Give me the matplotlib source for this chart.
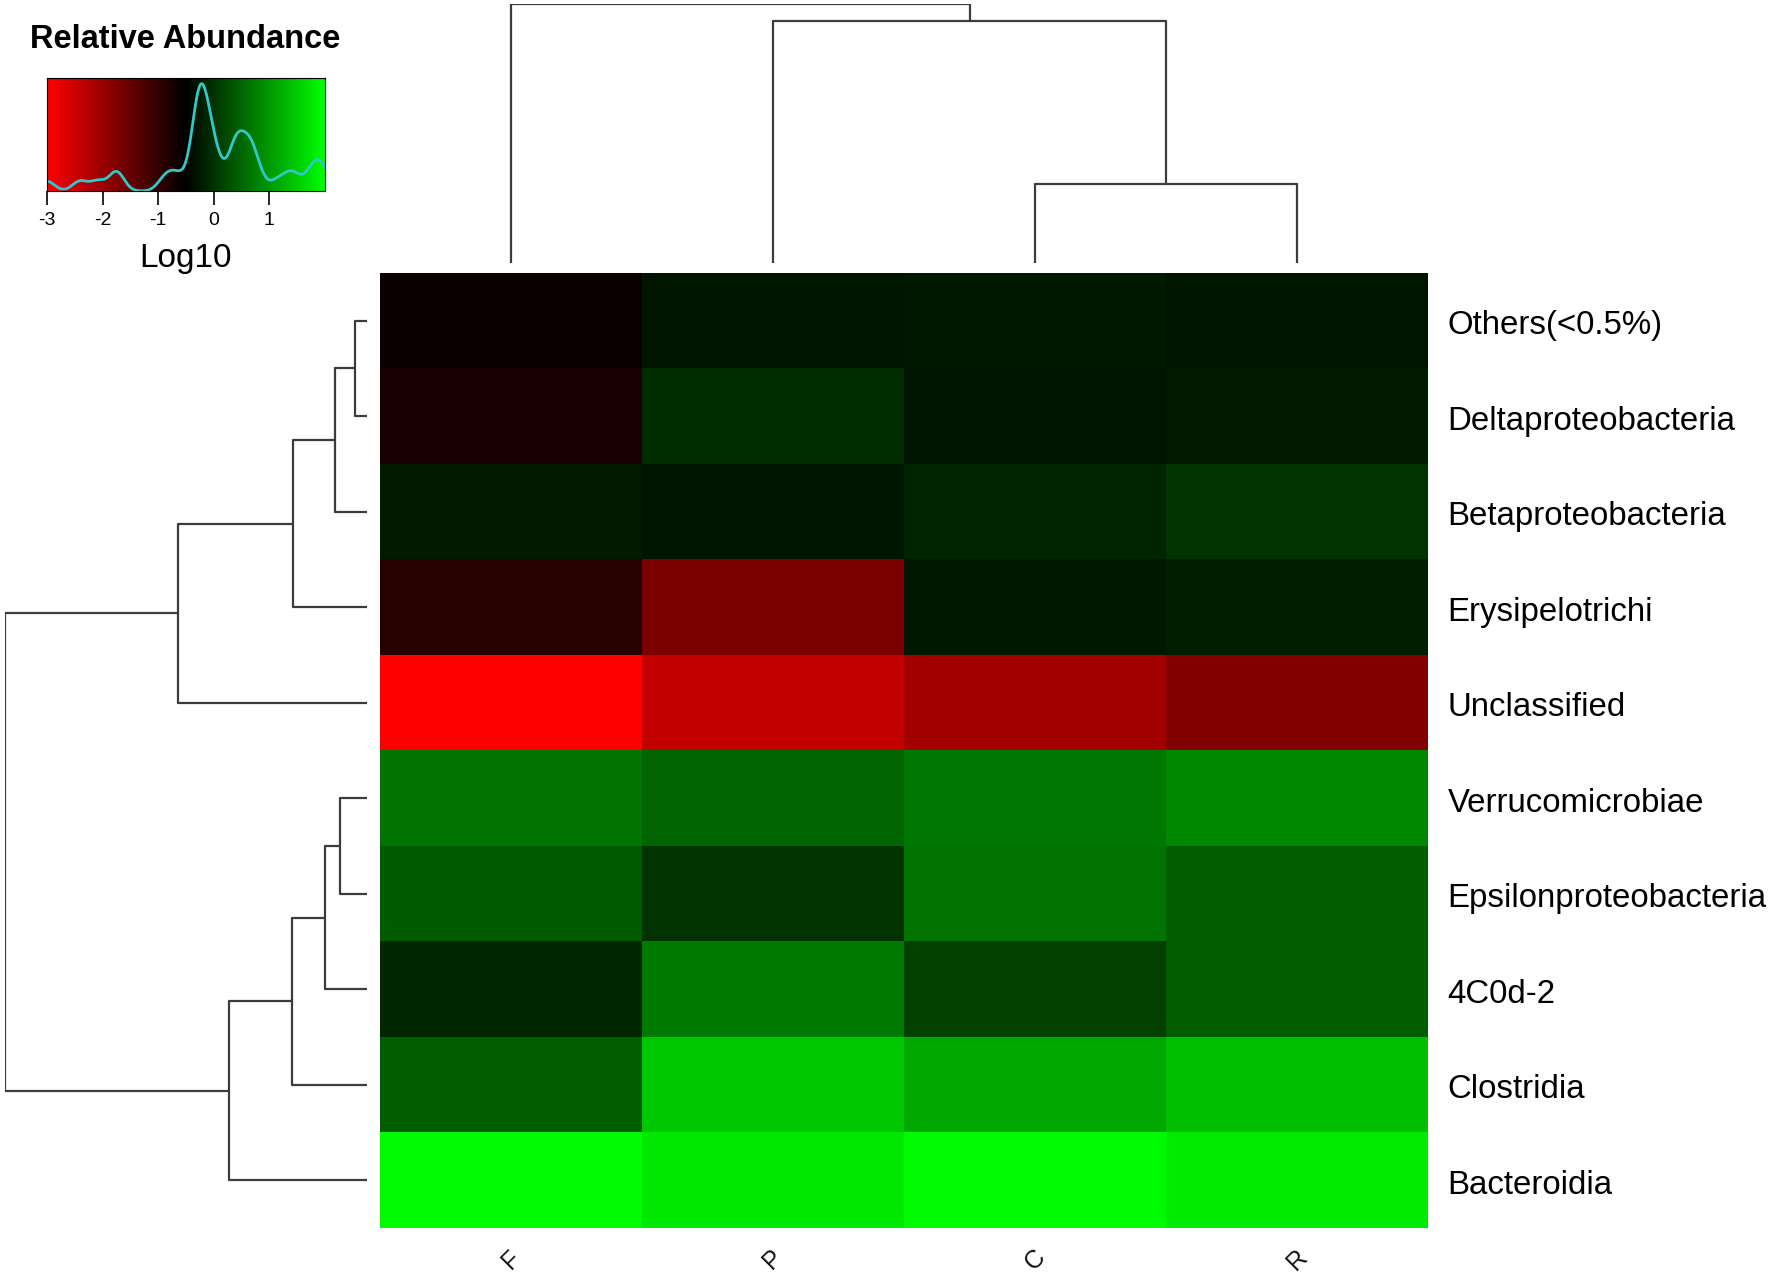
import numpy as np
import matplotlib
matplotlib.use("Agg")
import matplotlib.pyplot as plt
from matplotlib.colors import LinearSegmentedColormap

plt.rcParams['font.family'] = ['Liberation Sans', 'DejaVu Sans']
plt.rcParams['axes.unicode_minus'] = False

# rows top -> bottom, columns left -> right (log10 relative abundance)
row_labels = ['Others(<0.5%)', 'Deltaproteobacteria', 'Betaproteobacteria',
              'Erysipelotrichi', 'Unclassified', 'Verrucomicrobiae',
              'Epsilonproteobacteria', '4C0d-2', 'Clostridia', 'Bacteroidia']
col_labels = ['F', 'P', 'C', 'R']
values = [
    [-0.60, -0.30, -0.25, -0.30],
    [-0.75, -0.06, -0.30, -0.23],
    [-0.23, -0.30, -0.16, -0.01],
    [-0.89, -1.73, -0.25, -0.20],
    [-3.00, -2.41, -2.09, -1.77],
    [0.63, 0.48, 0.66, 0.82],
    [0.38, -0.01, 0.63, 0.40],
    [-0.11, 0.68, 0.14, 0.40],
    [0.40, 1.46, 1.15, 1.36],
    [1.95, 1.75, 1.95, 1.80],
]

# dendrogram merges: (left node, right node, height); new nodes numbered after leaves
row_merges = [(0, 1, 12), (10, 2, 31.5), (11, 3, 74), (12, 4, 188),
              (5, 6, 27), (14, 7, 42), (15, 8, 75), (16, 9, 138), (13, 17, 361)]
col_merges = [(2, 3, 79), (1, 4, 242), (0, 5, 259)]

vmin, vmax = -3, 2
cmap = LinearSegmentedColormap.from_list('rbg', ['#ff0000', '#000000', '#00ff00'])
line_col = '#3c3c3c'

W, H = 1770, 1276
fig = plt.figure(figsize=(W / 100, H / 100), dpi=100)


def box(x0, y0, x1, y1):
    return [x0 / W, 1 - y1 / H, (x1 - x0) / W, (y1 - y0) / H]


def dendro(ax, merges, n, vertical):
    pos = {i: float(i) for i in range(n)}
    hgt = {i: 0.0 for i in range(n)}
    for k, (a, b, h) in enumerate(merges):
        xs = [pos[a], pos[a], pos[b], pos[b]]
        ys = [hgt[a], h, h, hgt[b]]
        if vertical:
            ax.plot(xs, ys, color=line_col, lw=1.6, solid_capstyle='butt')
        else:
            ax.plot(ys, xs, color=line_col, lw=1.6, solid_capstyle='butt')
        pos[n + k] = (pos[a] + pos[b]) / 2
        hgt[n + k] = h


# heatmap
ax = fig.add_axes(box(380, 273, 1428, 1228))
data = np.array(values)
ax.imshow(data, cmap=cmap, vmin=vmin, vmax=vmax, aspect='auto',
          interpolation='nearest')
ax.set_xlim(-0.5, 3.5)
ax.set_ylim(9.5, -0.5)
ax.axis('off')
for i, lab in enumerate(row_labels):
    ax.text(3.575, i + 0.05, lab, ha='left', va='center', fontsize=23.8)
for j, lab in enumerate(col_labels):
    ax.text(j, 9.5 + 0.33, lab, ha='center', va='center', fontsize=18,
            rotation=45, color='#111111')

# left dendrogram
axl = fig.add_axes(box(5, 273, 367, 1228))
dendro(axl, row_merges, len(row_labels), vertical=False)
axl.set_ylim(9.5, -0.5)
axl.set_xlim(max(m[2] for m in row_merges), 0)
axl.axis('off')

# top dendrogram
axt = fig.add_axes(box(380, 4, 1428, 263))
dendro(axt, col_merges, len(col_labels), vertical=True)
axt.set_xlim(-0.5, 3.5)
axt.set_ylim(0, max(m[2] for m in col_merges))
axt.axis('off')

# colour key with density
axk = fig.add_axes(box(47, 78, 325, 191))
grad = np.linspace(vmin, vmax, 256)[None, :]
axk.imshow(grad, cmap=cmap, vmin=vmin, vmax=vmax, aspect='auto',
           extent=[vmin, vmax, 0, 1])
vals = data.ravel()
q75, q25 = np.percentile(vals, [75, 25])
bw = 0.9 * min(vals.std(ddof=1), (q75 - q25) / 1.34) * len(vals) ** -0.2 * 0.45
xs = np.linspace(vmin, vmax, 512)
dens = np.exp(-0.5 * ((xs[:, None] - vals[None, :]) / bw) ** 2).sum(axis=1)
axk.plot(xs, dens / dens.max() * 0.95, color='#30c8c8', lw=2)
axk.set_xlim(vmin, vmax)
axk.set_ylim(0, 1)
axk.set_yticks([])
axk.set_xticks([-3, -2, -1, 0, 1])
axk.tick_params(axis='x', length=10, width=1.2, pad=5, labelsize=14)
for s in axk.spines.values():
    s.set_linewidth(0.8)

fig.text(185 / W, 1 - 40 / H, 'Relative Abundance', ha='center', va='center',
         fontsize=23.5, fontweight='bold')
fig.text(186 / W, 1 - 259 / H, 'Log10', ha='center', va='center', fontsize=24)

fig.savefig('out.png', dpi=100, facecolor='white')
